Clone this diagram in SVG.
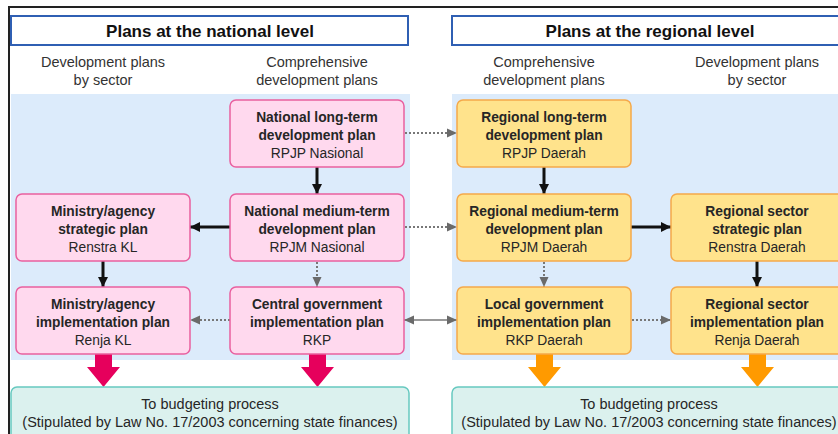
<svg xmlns="http://www.w3.org/2000/svg" width="838" height="434" viewBox="0 0 838 434">
  <style>
    text { font-family: "Liberation Sans", Arial, sans-serif; text-anchor: middle; }
    .hdr { fill: #ffffff; stroke: #2f5fb3; stroke-width: 2; }
    .hdr-t { font-size: 17px; font-weight: bold; fill: #111; }
    .col-t { font-size: 14.5px; fill: #333; }
    .zone { fill: #dcebfb; }
    .nat { fill: #ffd9ee; stroke: #e9609f; stroke-width: 1.5; }
    .reg { fill: #ffe38c; stroke: #f5a94a; stroke-width: 1.5; }
    .bud { fill: #dbf1ee; stroke: #67c9c0; stroke-width: 1.5; }
    .t1, .t2, .b1 { transform-box: fill-box; transform-origin: center; }
    .t1 { font-size: 15.5px; font-weight: bold; fill: #262626; transform: scaleX(0.89); }
    .t2 { font-size: 15.5px; fill: #262626; transform: scaleX(0.89); }
    .b1 { font-size: 15.5px; fill: #262626; transform: scaleX(0.935); }
    .solid { stroke: #111; stroke-width: 3; fill: none; }
    .dot { stroke: #777; stroke-width: 2; stroke-dasharray: 2 2; fill: none; }
    .thin { stroke: #777; stroke-width: 1.5; fill: none; }
    .bigpink { fill: #e6005c; }
    .bigorange { fill: #ff9a00; }
  </style>
  <defs>
    <marker id="ah-black" markerUnits="userSpaceOnUse" markerWidth="12" markerHeight="12" viewBox="0 0 12 12" refX="11" refY="6" orient="auto">
      <path d="M1,1 L11,6 L1,11 Z" fill="#111"/>
    </marker>
    <marker id="ah-gray" markerUnits="userSpaceOnUse" markerWidth="12" markerHeight="12" viewBox="0 0 12 12" refX="11" refY="6" orient="auto-start-reverse">
      <path d="M1,1.5 L11,6 L1,10.5 Z" fill="#6a6a6a"/>
    </marker>
  </defs>

  <rect width="838" height="434" fill="#ffffff"/>

  <!-- outer frame -->
  <line x1="8" y1="7" x2="838" y2="7" stroke="#222" stroke-width="2"/>
  <line x1="9" y1="6" x2="9" y2="434" stroke="#222" stroke-width="2"/>

  <!-- level headers -->
  <g id="national-header">
    <rect class="hdr" x="11" y="16" width="397" height="29"/>
    <text class="hdr-t" x="210" y="37">Plans at the national level</text>
  </g>
  <g id="regional-header">
    <rect class="hdr" x="452" y="16" width="400" height="29"/>
    <text class="hdr-t" x="650" y="37">Plans at the regional level</text>
  </g>

  <!-- column headings -->
  <text class="col-t" x="103" y="67">Development plans</text>
  <text class="col-t" x="103" y="85">by sector</text>
  <text class="col-t" x="317" y="67">Comprehensive</text>
  <text class="col-t" x="317" y="85">development plans</text>
  <text class="col-t" x="544" y="67">Comprehensive</text>
  <text class="col-t" x="544" y="85">development plans</text>
  <text class="col-t" x="757" y="67">Development plans</text>
  <text class="col-t" x="757" y="85">by sector</text>

  <!-- shaded planning zones -->
  <rect class="zone" x="11" y="94" width="399" height="266"/>
  <rect class="zone" x="452" y="94" width="386" height="266"/>

  <!-- connectors -->
  <g id="connectors">
    <line class="solid" x1="317" y1="167" x2="317" y2="194" marker-end="url(#ah-black)"/>
    <line class="solid" x1="230" y1="227" x2="190" y2="227" marker-end="url(#ah-black)"/>
    <line class="solid" x1="103" y1="261" x2="103" y2="287" marker-end="url(#ah-black)"/>
    <line class="dot" x1="317" y1="262" x2="317" y2="287" marker-end="url(#ah-gray)"/>
    <line class="dot" x1="230" y1="320" x2="190" y2="320" marker-end="url(#ah-gray)"/>
    <line class="dot" x1="405" y1="133" x2="457" y2="133" marker-end="url(#ah-gray)"/>
    <line class="dot" x1="405" y1="227" x2="457" y2="227" marker-end="url(#ah-gray)"/>
    <line class="thin" x1="404" y1="320" x2="457" y2="320" marker-start="url(#ah-gray)" marker-end="url(#ah-gray)"/>
    <line class="solid" x1="544" y1="167" x2="544" y2="194" marker-end="url(#ah-black)"/>
    <line class="solid" x1="631" y1="227" x2="671" y2="227" marker-end="url(#ah-black)"/>
    <line class="solid" x1="757" y1="261" x2="757" y2="287" marker-end="url(#ah-black)"/>
    <line class="dot" x1="544" y1="262" x2="544" y2="287" marker-end="url(#ah-gray)"/>
    <line class="dot" x1="632" y1="320" x2="671" y2="320" marker-end="url(#ah-gray)"/>
    <!-- flows into budgeting -->
    <path class="bigpink" d="M95,354 H112 V367 H120 L103.5,387 L87,367 H95 Z"/>
    <path class="bigpink" d="M309,354 H326 V367 H334 L317.5,387 L301,367 H309 Z"/>
    <path class="bigorange" d="M536,354 H553 V367 H561 L544.5,387 L528,367 H536 Z"/>
    <path class="bigorange" d="M749,354 H766 V367 H774 L757.5,387 L741,367 H749 Z"/>
  </g>

  <!-- national plans -->
  <g id="rpjp-nasional">
    <rect class="nat" x="230" y="100" width="174" height="67" rx="6"/>
    <text class="t1" x="317" y="122">National long-term</text>
    <text class="t1" x="317" y="140">development plan</text>
    <text class="t2" x="317" y="158">RPJP Nasional</text>
  </g>
  <g id="rpjm-nasional">
    <rect class="nat" x="230" y="194" width="174" height="67" rx="6"/>
    <text class="t1" x="317" y="216">National medium-term</text>
    <text class="t1" x="317" y="234">development plan</text>
    <text class="t2" x="317" y="252">RPJM Nasional</text>
  </g>
  <g id="renstra-kl">
    <rect class="nat" x="16" y="194" width="174" height="67" rx="6"/>
    <text class="t1" x="103" y="216">Ministry/agency</text>
    <text class="t1" x="103" y="234">strategic plan</text>
    <text class="t2" x="103" y="252">Renstra KL</text>
  </g>
  <g id="renja-kl">
    <rect class="nat" x="16" y="287" width="174" height="67" rx="6"/>
    <text class="t1" x="103" y="309">Ministry/agency</text>
    <text class="t1" x="103" y="327">implementation plan</text>
    <text class="t2" x="103" y="345">Renja KL</text>
  </g>
  <g id="rkp">
    <rect class="nat" x="230" y="287" width="174" height="67" rx="6"/>
    <text class="t1" x="317" y="309">Central government</text>
    <text class="t1" x="317" y="327">implementation plan</text>
    <text class="t2" x="317" y="345">RKP</text>
  </g>

  <!-- regional plans -->
  <g id="rpjp-daerah">
    <rect class="reg" x="457" y="100" width="174" height="67" rx="6"/>
    <text class="t1" x="544" y="122">Regional long-term</text>
    <text class="t1" x="544" y="140">development plan</text>
    <text class="t2" x="544" y="158">RPJP Daerah</text>
  </g>
  <g id="rpjm-daerah">
    <rect class="reg" x="457" y="194" width="174" height="67" rx="6"/>
    <text class="t1" x="544" y="216">Regional medium-term</text>
    <text class="t1" x="544" y="234">development plan</text>
    <text class="t2" x="544" y="252">RPJM Daerah</text>
  </g>
  <g id="renstra-daerah">
    <rect class="reg" x="671" y="194" width="174" height="67" rx="6"/>
    <text class="t1" x="757" y="216">Regional sector</text>
    <text class="t1" x="757" y="234">strategic plan</text>
    <text class="t2" x="757" y="252">Renstra Daerah</text>
  </g>
  <g id="rkp-daerah">
    <rect class="reg" x="457" y="287" width="174" height="67" rx="6"/>
    <text class="t1" x="544" y="309">Local government</text>
    <text class="t1" x="544" y="327">implementation plan</text>
    <text class="t2" x="544" y="345">RKP Daerah</text>
  </g>
  <g id="renja-daerah">
    <rect class="reg" x="671" y="287" width="174" height="67" rx="6"/>
    <text class="t1" x="757" y="309">Regional sector</text>
    <text class="t1" x="757" y="327">implementation plan</text>
    <text class="t2" x="757" y="345">Renja Daerah</text>
  </g>

  <!-- budgeting process -->
  <g id="budget-national">
    <rect class="bud" x="11" y="387" width="398" height="60" rx="6"/>
    <text class="b1" x="210" y="409">To budgeting process</text>
    <text class="b1" x="210" y="427">(Stipulated by Law No. 17/2003 concerning state finances)</text>
  </g>
  <g id="budget-regional">
    <rect class="bud" x="452" y="387" width="396" height="60" rx="6"/>
    <text class="b1" x="649" y="409">To budgeting process</text>
    <text class="b1" x="649" y="427">(Stipulated by Law No. 17/2003 concerning state finances)</text>
  </g>
</svg>
